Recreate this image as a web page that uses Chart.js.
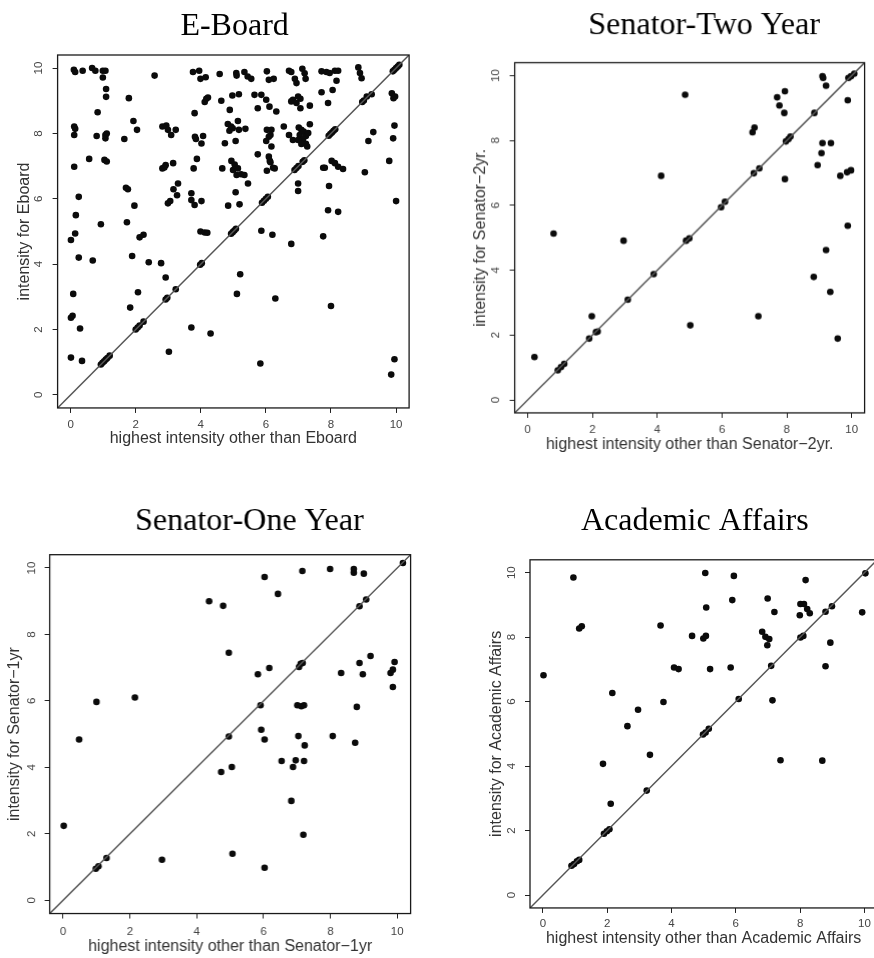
<!DOCTYPE html>
<html>
<head>
<meta charset="utf-8">
<script src="https://cdn.jsdelivr.net/npm/chart.js@4.4.1/dist/chart.umd.min.js"></script>
<style>
  html, body { margin: 0; padding: 0; background: #fff; }
  body { width: 874px; height: 958px; position: relative; overflow: hidden; }
  .panel { position: absolute; }
</style>
</head>
<body>
<div class="panel"><canvas id="eboard"></canvas></div>
<div class="panel"><canvas id="senator2"></canvas></div>
<div class="panel"><canvas id="senator1"></canvas></div>
<div class="panel"><canvas id="academic"></canvas></div>
<script>
// axis ticks shared by all four panels
const tickValues = [0, 2, 4, 6, 8, 10];
const axisMin = -0.4;
const axisMax = 10.4;

// E-Board: x = highest other intensity, y = intensity for Eboard
const eboardX = [
  0.10,0.14,0.37,0.66,0.76,0.99,1.07,0.99,2.58,3.76,
  3.95,3.99,4.15,4.58,5.09,5.10,5.34,5.44,5.55,6.03,
  6.09,6.24,6.71,6.78,6.89,6.94,7.12,7.19,7.22,7.71,
  7.86,7.96,8.12,8.22,8.17,8.84,8.89,8.94,
  1.09,1.09,1.79,4.12,4.17,4.22,4.63,4.97,5.17,5.65,
  5.86,6.01,6.11,6.32,6.83,6.99,7.06,6.78,6.94,7.06,
  7.35,7.71,8.05,7.91,9.87,9.92,9.97,0.83,3.81,4.89,5.75,
  0.11,0.14,0.11,0.80,1.07,1.11,1.07,1.65,1.93,2.04,
  2.82,2.94,2.99,3.09,3.23,3.82,3.85,4.07,4.02,4.74,
  4.83,4.93,4.88,4.98,5.14,5.17,5.37,5.07,6.55,6.03,
  6.17,6.09,6.01,6.17,6.14,6.71,6.83,7.35,7.01,7.09,
  7.04,7.16,7.23,7.30,7.14,7.23,7.09,6.99,7.27,9.30,
  9.15,9.91,9.95,
  0.11,0.57,1.04,1.11,2.82,2.92,2.88,3.15,3.78,3.88,
  4.66,4.94,4.99,5.04,5.14,5.10,5.24,5.34,5.45,5.75,
  6.09,6.12,6.14,6.22,6.03,6.27,6.99,6.99,7.76,7.81,
  8.02,8.12,8.22,8.37,9.04,9.79,
  0.25,1.70,1.76,1.96,2.99,3.06,3.16,3.30,3.27,3.71,
  3.71,3.81,4.02,4.84,5.07,5.19,7.94,7.91,8.22,10.0,
  0.16,0.14,0.01,0.93,1.73,2.12,2.24,3.99,4.12,4.20,
  5.86,6.20,6.78,7.76,
  0.25,0.68,1.89,2.40,2.78,2.92,0.08,2.07,5.21,5.11,
  6.29,8.00,1.83,0.01,0.06,0.29,3.71,4.30,3.02,0.01,
  0.35,5.83,9.95,9.85,
  0.93,0.98,1.03,1.08,1.13,1.20,2.00,2.06,2.12,2.24,
  2.92,2.97,3.23,3.98,4.03,4.93,4.98,5.03,5.08,5.88,
  5.94,6.00,6.06,6.88,6.94,7.00,7.13,7.18,7.93,7.98,
  8.03,8.08,8.13,8.96,9.01,9.10,9.25,9.90,9.95,10.00,10.05,10.10
];
const eboardY = [
  9.95,9.88,9.92,10.0,9.92,9.92,9.92,9.71,9.77,9.88,
  9.92,9.67,9.72,9.82,9.85,9.77,9.88,9.74,9.67,9.90,
  9.64,9.67,9.92,9.88,9.67,9.54,9.98,9.84,9.67,9.90,
  9.88,9.85,9.92,9.92,9.61,10.02,9.85,9.69,
  9.36,9.12,9.08,8.96,9.06,9.10,9.00,9.16,9.20,9.18,
  9.18,9.03,8.82,8.67,9.03,9.13,9.06,8.98,8.93,8.77,
  8.85,9.26,9.33,8.93,9.23,9.08,9.13,8.65,8.62,8.72,8.77,
  8.21,8.14,7.95,7.92,7.95,8.00,7.85,7.83,8.38,8.11,
  8.21,8.24,8.11,7.95,8.11,7.90,7.83,7.92,7.69,7.70,
  8.29,8.21,8.08,8.16,8.38,8.11,8.14,7.77,8.21,8.11,
  8.11,7.90,7.77,7.60,7.95,7.95,7.80,8.28,8.18,8.11,
  7.95,8.06,7.92,8.01,7.82,7.68,7.68,7.80,7.60,8.04,
  7.77,7.85,8.24,
  6.98,7.22,7.19,7.14,6.93,7.03,6.96,7.09,6.93,7.22,
  6.93,7.16,6.88,7.05,6.93,6.73,6.75,6.73,6.47,7.36,
  7.29,7.16,7.12,6.95,6.86,6.93,6.47,6.24,6.95,6.95,
  7.16,7.09,6.98,6.91,6.81,7.16,
  6.06,6.34,6.29,5.79,5.86,5.93,6.29,6.47,6.11,6.17,
  5.96,5.81,5.93,5.79,6.20,5.83,6.39,5.65,5.60,5.93,
  5.50,4.94,4.74,5.22,5.28,4.82,4.90,5.00,4.97,4.96,
  5.02,4.90,4.62,4.85,
  4.20,4.11,4.25,4.06,4.03,3.59,3.09,3.14,3.69,3.09,
  2.95,2.72,2.67,2.36,2.42,2.03,2.06,1.88,1.32,1.14,
  1.04,0.96,1.09,0.62,
  0.93,0.98,1.03,1.08,1.13,1.20,2.00,2.06,2.12,2.24,
  2.92,2.97,3.23,3.98,4.03,4.93,4.98,5.03,5.08,5.88,
  5.94,6.00,6.06,6.88,6.94,7.00,7.13,7.18,7.93,7.98,
  8.03,8.08,8.13,8.96,9.01,9.13,9.20,9.90,9.95,10.00,10.05,10.10
];

// Senator-Two Year
const senator2X = [
  0.21,0.93,1.03,1.13,0.80,1.90,1.98,2.11,2.16,2.96,
  3.09,3.89,4.12,4.86,4.89,4.99,5.02,5.97,6.09,6.94,
  7.00,6.98,7.15,7.12,7.70,7.77,7.94,7.92,7.97,8.05,
  8.11,7.94,8.85,8.83,9.10,9.12,9.21,9.10,9.36,9.07,
  8.95,9.21,9.34,9.57,9.65,9.86,9.98,9.88,9.88,9.90,
  9.98,10.08
];
const senator2Y = [
  1.32,0.91,1.01,1.11,5.13,1.89,2.58,2.09,2.11,4.91,
  3.09,3.88,6.91,9.41,4.91,4.98,2.30,5.94,6.11,8.25,
  8.40,6.99,7.14,2.58,9.33,9.08,9.52,8.85,7.97,8.04,
  8.12,6.81,8.85,3.79,9.98,9.93,9.69,7.92,7.92,7.61,
  7.24,4.62,3.33,1.89,6.91,7.02,7.08,9.24,5.37,9.93,
  9.98,10.06
];

// Senator-One Year
const senator1X = [
  0.02,0.48,1.00,0.98,1.06,1.30,2.15,2.96,4.37,4.79,
  4.73,4.96,4.96,5.05,5.07,5.83,5.91,5.93,6.03,6.03,
  6.03,6.17,6.43,6.54,6.83,6.88,6.96,7.06,7.11,7.17,
  7.01,7.13,7.21,7.04,7.16,7.23,7.21,7.19,7.99,8.07,
  8.32,8.70,8.70,8.79,8.74,8.87,8.87,9.00,8.97,9.07,
  9.20,9.80,9.87,9.92,9.87,10.17
];
const senator1Y = [
  2.24,4.84,5.97,0.95,1.02,1.27,6.10,1.22,9.00,8.86,
  3.86,7.45,4.93,4.01,1.40,6.80,5.87,5.13,9.73,4.84,
  0.98,6.99,9.22,4.19,2.99,4.01,4.21,7.02,7.12,7.14,
  5.87,5.84,5.87,4.94,9.91,4.66,4.19,1.97,9.97,4.94,
  6.84,9.97,9.86,5.82,4.74,8.85,7.14,9.83,6.80,9.05,
  7.35,6.84,6.94,7.17,6.42,10.15
];

// Academic Affairs
const academicX = [
  0.02,0.95,0.89,0.97,1.06,1.13,1.13,1.21,1.87,2.16,
  2.11,1.90,1.99,2.07,2.63,2.96,3.23,3.33,3.66,3.75,
  4.08,4.22,4.64,4.99,5.07,5.05,5.08,4.98,5.06,5.16,
  5.20,5.84,5.89,5.94,6.09,6.82,6.92,6.98,7.04,6.99,
  7.10,7.14,7.20,7.39,7.99,8.01,8.12,8.22,8.30,8.17,
  8.01,8.10,8.69,8.79,8.79,8.94,8.99,9.93,10.03
];
const academicY = [
  6.82,9.85,0.91,0.96,1.05,1.09,8.27,8.34,4.07,6.27,
  2.83,1.90,1.98,2.04,5.24,5.75,3.24,4.35,8.36,5.99,
  7.06,7.01,8.04,7.96,8.04,9.99,8.92,4.98,5.04,5.16,
  7.01,7.06,9.15,9.90,6.08,8.17,8.01,7.75,7.94,9.20,
  7.11,6.04,8.78,4.18,8.68,9.03,9.03,8.87,8.74,9.77,
  7.99,8.04,4.17,8.79,7.10,7.83,8.96,8.77,9.98
];

// ---- page layout (pixel positions of each plot box and its texts) ----
const SANS = '"Liberation Sans", Arial, Helvetica, sans-serif';
const SERIF = '"Liberation Serif", "Times New Roman", serif';
const TITLE_SIZE = 32;
const AXIS_TITLE_SIZE = 16;
const TICK_SIZE = 11.5;
const TICK_LEN = 5;

const panels = [
  { id: 'eboard', title: 'E-Board', xs: eboardX, ys: eboardY,
    xLabel: 'highest intensity other than Eboard', yLabel: 'intensity for Eboard',
    top: 0, plot: [58, 55, 409.5, 408], titleX: 235, titleBase: 34.5,
    yTitleOff: 33, yTickOff: 19, xTickOff: 16.4, xTitleBase: 36 },
  { id: 'senator2', title: 'Senator-Two Year', xs: senator2X, ys: senator2Y,
    xLabel: 'highest intensity other than Senator\u22122yr.', yLabel: 'intensity for Senator\u22122yr.',
    top: 0, plot: [514.8, 62.5, 863.8, 412], titleX: 703.7, titleBase: 33.5,
    yTitleOff: 34, yTickOff: 18.3, xTickOff: 17, xTitleBase: 37.5 },
  { id: 'senator1', title: 'Senator-One Year', xs: senator1X, ys: senator1Y,
    xLabel: 'highest intensity other than Senator\u22121yr', yLabel: 'intensity for Senator\u22121yr',
    top: 470, plot: [50, 554.7, 410, 913.5], titleX: 249.2, titleBase: 530,
    yTitleOff: 35, yTickOff: 18, xTickOff: 17.9, xTitleBase: 38.4 },
  { id: 'academic', title: 'Academic Affairs', xs: academicX, ys: academicY,
    xLabel: 'highest intensity other than Academic Affairs', yLabel: 'intensity for Academic Affairs',
    top: 470, plot: [530.2, 559.8, 877.5, 908], titleX: 695, titleBase: 530,
    yTitleOff: 33.4, yTickOff: 17.7, xTickOff: 16, xTitleBase: 36 }
];

// black frame round the plotting region
const plotBox = {
  id: 'plotBox',
  afterDatasetsDraw(chart) {
    const a = chart.chartArea, ctx = chart.ctx;
    ctx.save();
    ctx.strokeStyle = '#1a1a1a';
    ctx.lineWidth = 1.3;
    ctx.strokeRect(a.left, a.top, a.right - a.left, a.bottom - a.top);
    ctx.restore();
  }
};

// serif heading placed where the reference puts it (not centred on the canvas)
const panelTitle = {
  id: 'panelTitle',
  afterDraw(chart, args, opts) {
    const ctx = chart.ctx;
    ctx.save();
    ctx.font = TITLE_SIZE + 'px ' + SERIF;
    ctx.fillStyle = '#000';
    ctx.textAlign = 'center';
    ctx.textBaseline = 'alphabetic';
    ctx.fillText(opts.text, opts.x, opts.y);
    ctx.restore();
  }
};

// width of the widest tick label, needed to centre the rotated y labels
const measure = document.createElement('canvas').getContext('2d');
measure.font = TICK_SIZE + 'px ' + SANS;
const widestTick = Math.max(...tickValues.map(v => measure.measureText(String(v)).width));

function buildTicks(scale) {
  scale.ticks = tickValues.map(v => ({ value: v }));
}

function scatterPanel(p) {
  const canvas = document.getElementById(p.id);
  const wrap = canvas.parentNode;
  const [pl, pt, pr, pb] = p.plot;
  const axisLH = AXIS_TITLE_SIZE * 1.2;
  const yAxisW = p.yTitleOff + axisLH / 2;
  const xAxisH = p.xTitleBase - AXIS_TITLE_SIZE * 0.3465 + axisLH / 2;
  const left = pl - yAxisW - 4;
  const width = pr + 12 - left;
  const height = pb + xAxisH + 6 - p.top;
  wrap.style.left = left + 'px';
  wrap.style.top = p.top + 'px';
  wrap.style.width = width + 'px';
  wrap.style.height = height + 'px';

  const points = p.xs.map((x, i) => ({ x: x, y: p.ys[i] }));
  const identity = [{ x: axisMin, y: axisMin }, { x: axisMax, y: axisMax }];

  const tickFont = { family: SANS, size: TICK_SIZE };
  const titleFont = { family: SANS, size: AXIS_TITLE_SIZE };

  new Chart(canvas, {
    type: 'scatter',
    data: {
      datasets: [{
        data: points,
        pointRadius: 3.3,
        pointBackgroundColor: '#0b0b0b',
        pointBorderWidth: 0,
        pointHoverRadius: 3.3,
        order: 1
      }, {
        type: 'line',
        data: identity,
        borderColor: '#555',
        borderWidth: 1.5,
        pointRadius: 0,
        fill: false,
        order: 0
      }]
    },
    options: {
      responsive: true,
      maintainAspectRatio: false,
      animation: false,
      events: [],
      layout: {
        padding: {
          left: pl - yAxisW - left,
          right: left + width - pr,
          top: pt - p.top,
          bottom: height - (pb - p.top) - xAxisH
        }
      },
      plugins: {
        legend: { display: false },
        tooltip: { enabled: false },
        title: { display: false },
        panelTitle: { text: p.title, x: p.titleX - left, y: p.titleBase - p.top }
      },
      scales: {
        x: {
          type: 'linear',
          min: axisMin,
          max: axisMax,
          afterBuildTicks: buildTicks,
          afterFit: s => { s.height = xAxisH; },
          ticks: {
            font: tickFont, color: '#444', maxRotation: 0, autoSkip: false,
            padding: p.xTickOff - TICK_LEN - TICK_SIZE * 0.6
          },
          grid: { drawOnChartArea: false, drawTicks: true, tickLength: TICK_LEN, color: '#222', lineWidth: 1 },
          border: { display: false },
          title: { display: true, text: p.xLabel, color: '#333', font: titleFont, padding: 0 }
        },
        y: {
          type: 'linear',
          min: axisMin,
          max: axisMax,
          afterBuildTicks: buildTicks,
          afterFit: s => { s.width = yAxisW; },
          ticks: {
            font: tickFont, color: '#444', autoSkip: false,
            minRotation: 90, maxRotation: 90, crossAlign: 'center',
            padding: p.yTickOff - TICK_LEN - widestTick / 2
          },
          grid: { drawOnChartArea: false, drawTicks: true, tickLength: TICK_LEN, color: '#222', lineWidth: 1 },
          border: { display: false },
          title: { display: true, text: p.yLabel, color: '#333', font: titleFont, padding: 0 }
        }
      }
    },
    plugins: [plotBox, panelTitle]
  });
}

panels.forEach(scatterPanel);
</script>
</body>
</html>
